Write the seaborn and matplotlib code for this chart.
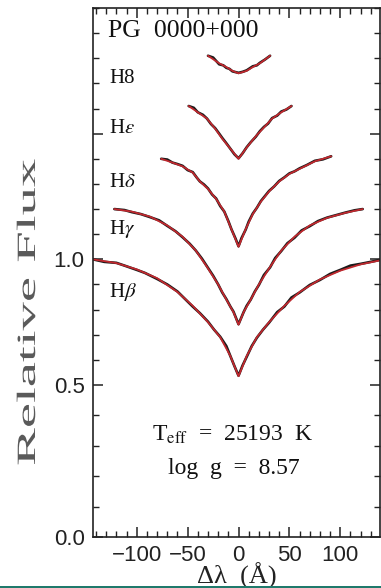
import numpy as np
import pandas as pd
import matplotlib
matplotlib.use("Agg")
import matplotlib.pyplot as plt
import matplotlib.patheffects as pe
import seaborn as sns
from matplotlib.patches import Rectangle
from matplotlib.transforms import Affine2D
from matplotlib.ticker import MultipleLocator

# ---------------- data ----------------
lines = ["H8", "Hε", "Hδ", "Hγ", "Hβ"]
label_tex = {"H8": "H8", "Hε": r"H$\epsilon$", "Hδ": r"H$\delta$",
             "Hγ": r"H$\gamma$", "Hβ": r"H$\beta$"}

# model (smooth fit) profiles: wavelength offset (Å) and relative flux
hb_x = [-143, -120, -100, -80, -60, -45, -30, -18, -8, 0, 8, 18, 30, 45, 60, 80, 100, 120, 138]
hb_y = [1.00, 0.985, 0.96, 0.925, 0.87, 0.815, 0.75, 0.69, 0.615, 0.535, 0.615, 0.69, 0.75, 0.815, 0.87, 0.92, 0.955, 0.98, 0.995]

hg_x = [-122, -105, -87, -70, -55, -42, -31, -20, -12, -5, 0, 5, 12, 20, 31, 42, 55, 70, 87, 105, 122]
hg_y = [1.20, 1.19, 1.17, 1.135, 1.09, 1.035, 0.97, 0.90, 0.84, 0.79, 0.74, 0.79, 0.84, 0.90, 0.97, 1.035, 1.09, 1.135, 1.165, 1.185, 1.20]

hd_x = [-76, -65, -55, -45, -38, -30, -22, -14, -7, 0, 7, 14, 22, 30, 40, 50, 60, 75, 91]
hd_y = [1.40, 1.385, 1.37, 1.345, 1.31, 1.28, 1.24, 1.19, 1.12, 1.05, 1.12, 1.18, 1.23, 1.27, 1.31, 1.34, 1.36, 1.39, 1.41]

he_x = [-49, -40, -31, -23, -16, -8, 0, 8, 17, 25, 33, 42, 52]
he_y = [1.61, 1.585, 1.56, 1.52, 1.48, 1.44, 1.40, 1.445, 1.49, 1.525, 1.56, 1.585, 1.61]

h8_x = [-30, -19, -12, -6, 0, 8, 14, 21, 31]
h8_y = [1.81, 1.78, 1.765, 1.75, 1.74, 1.75, 1.765, 1.78, 1.81]

# observed spectra (noisy)
hb_obs_x = [-143, -132, -120, -112, -100, -92, -80, -70, -60, -52, -45, -38, -30, -24, -18, -12, -8, -4, 0, 4, 8, 13, 18, 24, 30, 38, 45, 52, 60, 70, 80, 90, 100, 110, 120, 130, 138]
hb_obs_y = [1.00, 0.99, 0.986, 0.975, 0.958, 0.946, 0.922, 0.90, 0.872, 0.84, 0.812, 0.786, 0.752, 0.72, 0.692, 0.655, 0.615, 0.575, 0.537, 0.578, 0.612, 0.655, 0.688, 0.72, 0.748, 0.79, 0.812, 0.848, 0.868, 0.898, 0.918, 0.942, 0.958, 0.975, 0.982, 0.99, 0.997]

hg_obs_x = [-122, -112, -105, -96, -87, -78, -70, -62, -55, -48, -42, -36, -31, -25, -20, -16, -12, -8, -5, 0, 5, 8, 12, 16, 20, 25, 31, 36, 42, 48, 55, 62, 70, 78, 87, 96, 105, 114, 122]
hg_obs_y = [1.20, 1.196, 1.188, 1.18, 1.168, 1.155, 1.133, 1.112, 1.088, 1.062, 1.035, 1.003, 0.972, 0.935, 0.90, 0.868, 0.842, 0.812, 0.792, 0.742, 0.79, 0.815, 0.84, 0.872, 0.898, 0.938, 0.968, 1.005, 1.033, 1.064, 1.086, 1.115, 1.132, 1.152, 1.166, 1.176, 1.186, 1.195, 1.20]

hd_obs_x = [-76, -70, -65, -60, -55, -50, -45, -41, -38, -34, -30, -26, -22, -18, -14, -10, -7, -3, 0, 3, 7, 10, 14, 18, 22, 26, 30, 35, 40, 45, 50, 55, 60, 67, 75, 83, 91]
hd_obs_y = [1.40, 1.397, 1.385, 1.379, 1.372, 1.355, 1.347, 1.325, 1.31, 1.298, 1.282, 1.258, 1.242, 1.212, 1.19, 1.152, 1.12, 1.083, 1.052, 1.085, 1.118, 1.15, 1.182, 1.205, 1.232, 1.252, 1.272, 1.29, 1.312, 1.326, 1.342, 1.35, 1.362, 1.375, 1.392, 1.398, 1.41]

he_obs_x = [-49, -44, -40, -35, -31, -27, -23, -19, -16, -12, -8, -4, 0, 4, 8, 12, 17, 21, 25, 29, 33, 38, 42, 47, 52]
he_obs_y = [1.61, 1.603, 1.585, 1.575, 1.56, 1.538, 1.522, 1.50, 1.483, 1.462, 1.44, 1.418, 1.402, 1.422, 1.446, 1.466, 1.488, 1.51, 1.527, 1.54, 1.562, 1.572, 1.588, 1.596, 1.61]

h8_obs_x = [-30, -25, -19, -15, -12, -9, -6, -3, 0, 4, 8, 11, 14, 18, 21, 26, 31]
h8_obs_y = [1.81, 1.803, 1.776, 1.772, 1.762, 1.758, 1.748, 1.745, 1.742, 1.746, 1.752, 1.76, 1.768, 1.772, 1.782, 1.795, 1.81]

label_x = [-127, -127, -127, -127, -127]
label_y = [1.72, 1.52, 1.305, 1.12, 0.87]

xticks = [-100, -50, 0, 50, 100]
yticks_labeled = [0.0, 0.5, 1.0]
yticks_major = [0.0, 0.5, 1.0, 1.5]

model = {"H8": (h8_x, h8_y), "Hε": (he_x, he_y), "Hδ": (hd_x, hd_y),
         "Hγ": (hg_x, hg_y), "Hβ": (hb_x, hb_y)}
obs = {"H8": (h8_obs_x, h8_obs_y), "Hε": (he_obs_x, he_obs_y), "Hδ": (hd_obs_x, hd_obs_y),
       "Hγ": (hg_obs_x, hg_obs_y), "Hβ": (hb_obs_x, hb_obs_y)}

rows = []
for name in lines:
    for x, y in zip(*obs[name]):
        rows.append((name, "observed", x, y))
    for x, y in zip(*model[name]):
        rows.append((name, "model", x, y))
df = pd.DataFrame(rows, columns=["line", "kind", "dlam", "flux"])

# ---------------- style ----------------
sns.set_theme(style="ticks")
plt.rcParams["font.family"] = ["Liberation Serif", "DejaVu Serif"]
plt.rcParams["mathtext.fontset"] = "stix"
plt.rcParams["xtick.direction"] = "in"
plt.rcParams["ytick.direction"] = "in"


class Stretch(pe.AbstractPathEffect):
    """Draw text glyphs stretched along the reading direction (the scan is stretched)."""

    def __init__(self, sx=1.0, sy=1.0):
        super().__init__()
        self.sx, self.sy = sx, sy

    def draw_path(self, renderer, gc, tpath, affine, rgbFace=None):
        renderer.draw_path(gc, tpath, Affine2D().scale(self.sx, self.sy) + affine, rgbFace)


TOP_PX, BOT_PX = 8, 537
fig = plt.figure(figsize=(3.81, 5.88), dpi=100)
fig.patch.set_facecolor("white")
ax = fig.add_axes([93 / 381, 1 - BOT_PX / 588, (380 - 93) / 381, (BOT_PX - TOP_PX) / 588])
ax.set_facecolor("white")

# the scanned figure's y axis is stretched below 0.5: piecewise-linear scale
_knots_v = np.array([0.0, 0.5, 2.0])
_knots_p = np.array([-537.0, -385.0, -8.0])


def _fwd(v):
    v = np.asarray(v, dtype=float)
    out = np.interp(v, _knots_v, _knots_p)
    s_lo = (_knots_p[1] - _knots_p[0]) / (_knots_v[1] - _knots_v[0])
    s_hi = (_knots_p[-1] - _knots_p[-2]) / (_knots_v[-1] - _knots_v[-2])
    out = np.where(v < _knots_v[0], _knots_p[0] + (v - _knots_v[0]) * s_lo, out)
    out = np.where(v > _knots_v[-1], _knots_p[-1] + (v - _knots_v[-1]) * s_hi, out)
    return out


def _inv(p):
    p = np.asarray(p, dtype=float)
    out = np.interp(p, _knots_p, _knots_v)
    s_lo = (_knots_v[1] - _knots_v[0]) / (_knots_p[1] - _knots_p[0])
    s_hi = (_knots_v[-1] - _knots_v[-2]) / (_knots_p[-1] - _knots_p[-2])
    out = np.where(p < _knots_p[0], _knots_v[0] + (p - _knots_p[0]) * s_lo, out)
    out = np.where(p > _knots_p[-1], _knots_v[-1] + (p - _knots_p[-1]) * s_hi, out)
    return out


ax.set_yscale("function", functions=(_fwd, _inv))

for name in lines:
    d = df[(df.line == name) & (df.kind == "observed")]
    sns.lineplot(data=d, x="dlam", y="flux", ax=ax, color="#1a1a1a", lw=1.9,
                 sort=False, estimator=None, legend=False)
    d = df[(df.line == name) & (df.kind == "model")]
    sns.lineplot(data=d, x="dlam", y="flux", ax=ax, color="#c0282e", lw=1.3,
                 sort=False, estimator=None, legend=False)

ax.set_xlim(-143, 139)
ax.set_ylim(0.0, 2.0)

for name, lx, ly in zip(lines, label_x, label_y):
    ax.text(lx, ly, label_tex[name], fontsize=15, ha="left", va="center", color="#111111")

ax.text(-128, 1.91, "PG  0000+000", fontsize=18.5, ha="left", va="center", color="#111111")
ax.text(-6, 0.335, r"T$_{\rm eff}$  =  25193  K", fontsize=17, ha="center", va="center", color="#111111")
ax.text(-5, 0.225, "log  g  =  8.57", fontsize=17, ha="center", va="center", color="#111111")

# ticks
ax.set_xticks(xticks)
ax.xaxis.set_minor_locator(MultipleLocator(10))
ax.set_yticks(yticks_major)
ax.yaxis.set_minor_locator(MultipleLocator(0.1))
ax.set_yticklabels([f"{v:.1f}" if v in yticks_labeled else "" for v in yticks_major])
ax.set_xticklabels([f"\u2212{abs(v)}" if v < 0 else f"{v}" for v in xticks])
ax.tick_params(which="both", top=True, right=True, direction="in", color="#222222")
ax.tick_params(which="major", length=7, width=1.1, labelsize=16, pad=6)
ax.tick_params(which="minor", length=4, width=1.0)
for lab in ax.get_xticklabels() + ax.get_yticklabels():
    lab.set_fontfamily(["Liberation Sans", "DejaVu Sans"])
    lab.set_color("#222222")
for sp in ax.spines.values():
    sp.set_visible(True)
    sp.set_linewidth(1.2)
    sp.set_color("#222222")

ax.set_xlabel("Δλ  (Å)", fontsize=19, labelpad=-2.5, color="#222222")

# y label: start (bottom) anchored, glyphs stretched along the text like the scan
ax.set_ylabel("Relative Flux", fontsize=19, color="#5a5a5a",
              ha="left", va="baseline", rotation=90, rotation_mode="anchor")
ax.yaxis.set_label_coords((35 - 93) / 287, (BOT_PX - 466) / (BOT_PX - TOP_PX))
ax.yaxis.label.set_path_effects([Stretch(2.15, 1.0)])

# teal strip at the very bottom of the screenshot
fig.patches.append(Rectangle((0, 0), 1, 2 / 588, transform=fig.transFigure,
                             facecolor="#1f7a6c", edgecolor="none"))

fig.savefig("out.png", dpi=100)
